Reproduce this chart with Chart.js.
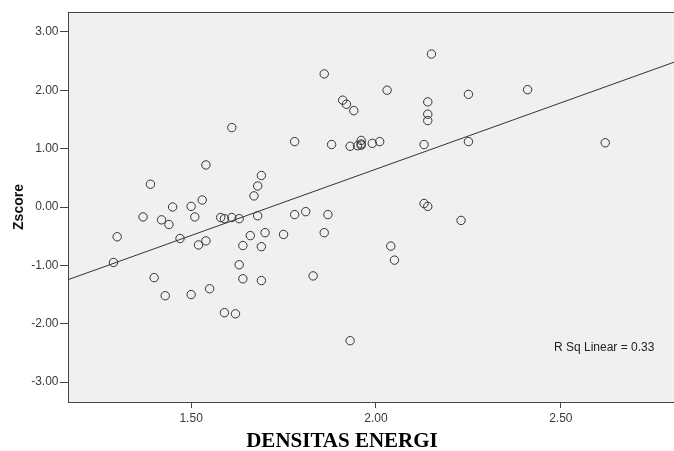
<!DOCTYPE html>
<html>
<head>
<meta charset="utf-8">
<script src="https://cdn.jsdelivr.net/npm/chart.js@4/dist/chart.umd.min.js"></script>
<style>
  html, body { margin: 0; padding: 0; background: #ffffff; }
  #wrap { width: 674px; height: 451px; position: relative; }
</style>
</head>
<body>
<div id="wrap"><canvas id="c" width="674" height="451"></canvas></div>
<script>
// ---- data ----
const densitasEnergi = [
  1.30, 1.29, 1.39, 1.37, 1.42, 1.44, 1.40, 1.43, 1.45, 1.47,
  1.50, 1.51, 1.54, 1.53, 1.54, 1.52, 1.55, 1.50, 1.58, 1.59,
  1.61, 1.63, 1.61, 1.59, 1.62, 1.63, 1.64, 1.64, 1.66, 1.67,
  1.68, 1.69, 1.68, 1.70, 1.69, 1.69, 1.75, 1.78, 1.78, 1.81,
  1.83, 1.86, 1.86, 1.87, 1.88, 1.91, 1.92, 1.94, 1.93, 1.95,
  1.96, 1.96, 1.96, 1.99, 2.01, 1.93, 2.03, 2.04, 2.05, 2.13,
  2.13, 2.14, 2.14, 2.14, 2.14, 2.15, 2.23, 2.25, 2.25, 2.41,
  2.62
];
const zscore = [
  -0.51, -0.95, 0.39, -0.17, -0.22, -0.30, -1.21, -1.52, 0.00, -0.54,
  0.01, -0.17, 0.72, 0.12, -0.58, -0.65, -1.40, -1.50, -0.18, -0.20,
  -0.18, -0.20, 1.36, -1.81, -1.83, -0.99, -0.66, -1.23, -0.49, 0.19,
  0.36, 0.54, -0.15, -0.44, -0.68, -1.26, -0.47, 1.12, -0.13, -0.08,
  -1.18, -0.44, 2.28, -0.13, 1.07, 1.83, 1.76, 1.65, 1.04, 1.05,
  1.06, 1.14, 1.08, 1.09, 1.12, -2.29, 2.00, -0.67, -0.91, 1.07,
  0.06, 0.01, 1.80, 1.59, 1.48, 2.62, -0.23, 1.12, 1.93, 2.01,
  1.10
];
const xTickValues = [1.5, 2.0, 2.5];
const yTickValues = [-3, -2, -1, 0, 1, 2, 3];
const xRange = [1.167, 2.806];
const yRange = [-3.34, 3.34];
const fitSlope = 2.273;
const fitIntercept = -3.898;
const rSquared = 0.33;
const xTitle = "DENSITAS ENERGI";
const yTitle = "Zscore";

// ---- build chart ----
const points = densitasEnergi.map((x, i) => ({ x: x, y: zscore[i] }));
const fit = x => fitIntercept + fitSlope * x;
const fitLine = xRange.map(x => ({ x: x, y: fit(x) }));

const decor = {
  id: 'decor',
  beforeDraw(chart) {
    const { ctx, chartArea: a } = chart;
    ctx.save();
    ctx.fillStyle = '#ffffff';
    ctx.fillRect(0, 0, chart.width, chart.height);
    ctx.fillStyle = '#f0f0f0';
    ctx.fillRect(a.left, a.top, a.right - a.left, a.bottom - a.top);
    ctx.restore();
  },
  afterDraw(chart) {
    const { ctx, chartArea: a } = chart;
    ctx.save();
    // top frame line
    ctx.strokeStyle = '#444444';
    ctx.lineWidth = 1;
    ctx.beginPath();
    ctx.moveTo(a.left, a.top + 0.5);
    ctx.lineTo(a.right, a.top + 0.5);
    ctx.stroke();
    // R squared annotation
    ctx.fillStyle = '#222222';
    ctx.font = '12px "Liberation Sans", Arial, sans-serif';
    ctx.textAlign = 'left';
    ctx.textBaseline = 'middle';
    ctx.fillText('R Sq Linear = ' + rSquared.toFixed(2), a.right - 120, a.bottom - 54);
    // x title
    ctx.fillStyle = '#000000';
    ctx.font = 'bold 21px "Liberation Serif", "Times New Roman", serif';
    ctx.textAlign = 'center';
    ctx.textBaseline = 'alphabetic';
    ctx.fillText(xTitle, 342, 447);
    // y title
    ctx.translate(23, (a.top + a.bottom) / 2);
    ctx.rotate(-Math.PI / 2);
    ctx.font = 'bold 14px "Liberation Sans", Arial, sans-serif';
    ctx.fillStyle = '#111111';
    ctx.textAlign = 'center';
    ctx.fillText(yTitle, 0, 0);
    ctx.restore();
  }
};

new Chart(document.getElementById('c'), {
  type: 'scatter',
  data: {
    datasets: [
      {
        data: points,
        pointRadius: 4.2,
        pointHoverRadius: 4.2,
        pointBorderWidth: 1,
        borderColor: '#333333',
        backgroundColor: 'rgba(0,0,0,0)',
        pointStyle: 'circle'
      },
      {
        type: 'line',
        data: fitLine,
        borderColor: '#333333',
        borderWidth: 1,
        pointRadius: 0,
        fill: false,
        tension: 0
      }
    ]
  },
  options: {
    responsive: false,
    animation: false,
    events: [],
    layout: { autoPadding: false, padding: { top: 12, right: 0, left: 0, bottom: 0 } },
    plugins: { legend: { display: false }, tooltip: { enabled: false } },
    scales: {
      x: {
        type: 'linear',
        min: xRange[0],
        max: xRange[1],
        afterBuildTicks: s => { s.ticks = xTickValues.map(v => ({ value: v })); },
        afterFit: s => { s.height = 49; },
        ticks: {
          callback: v => Number(v).toFixed(2),
          color: '#3a3a3a',
          font: { family: '"Liberation Sans", Arial, sans-serif', size: 12 },
          padding: 3,
          maxRotation: 0,
          autoSkip: false
        },
        grid: { drawOnChartArea: false, drawTicks: true, tickLength: 6, color: '#444444' },
        border: { display: true, color: '#444444', width: 1 }
      },
      y: {
        type: 'linear',
        min: yRange[0],
        max: yRange[1],
        afterBuildTicks: s => { s.ticks = yTickValues.map(v => ({ value: v })); },
        afterFit: s => { s.width = 68; },
        ticks: {
          callback: v => Number(v).toFixed(2),
          color: '#3a3a3a',
          font: { family: '"Liberation Sans", Arial, sans-serif', size: 12 },
          padding: 1.5,
          autoSkip: false
        },
        grid: { drawOnChartArea: false, drawTicks: true, tickLength: 8, color: '#444444' },
        border: { display: true, color: '#444444', width: 1 }
      }
    }
  },
  plugins: [decor]
});
</script>
</body>
</html>
